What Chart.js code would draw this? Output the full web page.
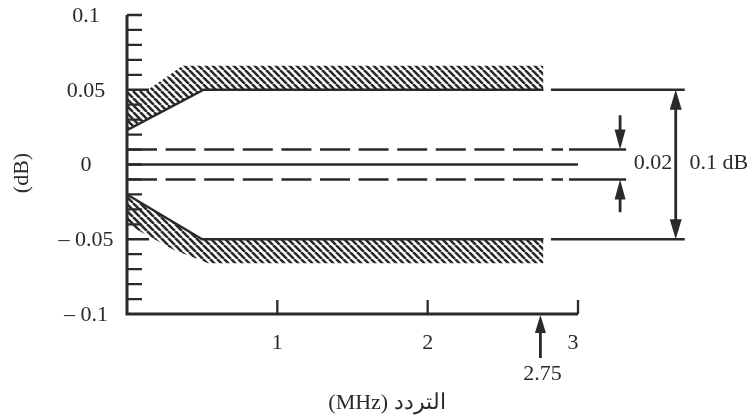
<!DOCTYPE html>
<html>
<head>
<meta charset="utf-8">
<script src="https://cdn.jsdelivr.net/npm/chart.js@4/dist/chart.umd.min.js"></script>
<style>
  html, body { margin: 0; padding: 0; background: #fff; }
  canvas { display: block; }
</style>
</head>
<body>
<canvas id="chart" width="754" height="420"></canvas>
<script>
// frequency in MHz, level in dB
const upperHatchX = [0, 0.14, 0.37, 2.77];
const upperHatchY = [0.05, 0.05, 0.066, 0.066];
const upperLimitX = [0, 0.51, 2.77];
const upperLimitY = [0.023, 0.05, 0.05];
const lowerHatchX = [0, 0.31, 0.54, 2.77];
const lowerHatchY = [-0.04, -0.057, -0.066, -0.066];
const lowerLimitX = [0, 0.5, 2.77];
const lowerLimitY = [-0.02, -0.05, -0.05];
const limitExtX = [2.82, 3.71];
const zeroLineX = [0, 3];
const toleranceX = [0, 2.9];
const toleranceExtX = [2.94, 3.32];
const tolerance = 0.01;
const limit = 0.05;

const xTicks = [1, 2, 3];
const xTickLabels = ["1", "2", "3"];
const yTicks = [0.1, 0.05, 0, -0.05, -0.1];
const yTickLabels = ["0.1", "0.05", "0", "– 0.05", "– 0.1"];
const yMinorStep = 0.01;
const markerX = 2.75;
const markerLabel = "2.75";
const smallArrowX = 3.28;
const smallArrowEnds = [0.033, -0.032];
const smallArrowLabel = "0.02";
const bigArrowX = 3.65;
const bigArrowLabel = "0.1 dB";
const xTitle = "التردد (MHz)";
const yTitle = "(dB)";

const ink = "#2a2a2a";
const serif = "'Liberation Serif', 'Times New Roman', serif";

function hatch() {
  const s = 7;
  const c = document.createElement("canvas");
  c.width = s; c.height = s;
  const g = c.getContext("2d");
  g.strokeStyle = ink;
  g.lineWidth = 2.6;
  g.beginPath();
  for (const k of [-s, 0, s]) { g.moveTo(k, 0); g.lineTo(k + s, s); }
  g.stroke();
  return g.createPattern(c, "repeat");
}

const pts = (xs, ys) => xs.map((x, i) => ({ x, y: Array.isArray(ys) ? ys[i] : ys }));
const solid = (data, w) => ({ data, borderColor: ink, borderWidth: w || 2.3, fill: false, clip: false });
const dashed = data => ({ data, borderColor: ink, borderWidth: 2.6, borderDash: [30, 8.6], fill: false, clip: false });
const pattern = hatch();

function arrowHead(ctx, x, y, dir, len, half) {
  ctx.beginPath();
  ctx.moveTo(x, y);
  ctx.lineTo(x - half, y - dir * len);
  ctx.lineTo(x + half, y - dir * len);
  ctx.closePath();
  ctx.fill();
}

const axesPlugin = {
  id: "axesPlugin",
  afterDatasetsDraw(chart) {
    const { ctx, chartArea: a, scales: { x, y } } = chart;
    ctx.save();
    ctx.strokeStyle = ink;
    ctx.fillStyle = ink;
    ctx.lineCap = "butt";

    // axes
    ctx.lineWidth = 3;
    ctx.beginPath();
    ctx.moveTo(a.left, a.top);
    ctx.lineTo(a.left, a.bottom);
    ctx.lineTo(x.getPixelForValue(3), a.bottom);
    ctx.stroke();

    // y ticks pointing inward
    ctx.lineWidth = 2.3;
    ctx.beginPath();
    for (let v = -0.09; v <= 0.1001; v += yMinorStep) {
      const py = y.getPixelForValue(v);
      const major = Math.abs(Math.abs(v) - 0.05) < 1e-6;
      ctx.moveTo(a.left, py);
      ctx.lineTo(a.left + (major ? 22 : 15), py);
    }
    // x ticks pointing up
    xTicks.forEach(t => {
      const px = x.getPixelForValue(t);
      ctx.moveTo(px, a.bottom);
      ctx.lineTo(px, a.bottom - 14);
    });
    ctx.stroke();

    ctx.font = "22px " + serif;
    ctx.textBaseline = "middle";
    ctx.textAlign = "center";
    yTicks.forEach((t, i) => ctx.fillText(yTickLabels[i], 86, y.getPixelForValue(t) + 1));
    xTicks.forEach((t, i) => {
      const dx = t === 3 ? -5 : 0;
      ctx.fillText(xTickLabels[i], x.getPixelForValue(t) + dx, a.bottom + 29);
    });

    // 2.75 marker
    const mx = x.getPixelForValue(markerX);
    ctx.lineWidth = 2.8;
    ctx.beginPath();
    ctx.moveTo(mx, a.bottom + 44);
    ctx.lineTo(mx, a.bottom + 16);
    ctx.stroke();
    arrowHead(ctx, mx, a.bottom + 1, -1, 18, 5.5);
    ctx.fillText(markerLabel, mx + 2, a.bottom + 60);

    // 0.02 dimension
    const sx = x.getPixelForValue(smallArrowX);
    const t1 = y.getPixelForValue(tolerance), t2 = y.getPixelForValue(-tolerance);
    ctx.beginPath();
    ctx.moveTo(sx, y.getPixelForValue(smallArrowEnds[0]));
    ctx.lineTo(sx, t1 - 15);
    ctx.moveTo(sx, t2 + 15);
    ctx.lineTo(sx, y.getPixelForValue(smallArrowEnds[1]));
    ctx.stroke();
    arrowHead(ctx, sx, t1, 1, 20, 5.5);
    arrowHead(ctx, sx, t2, -1, 20, 5.5);

    // 0.1 dB dimension
    const bx = x.getPixelForValue(bigArrowX);
    const l1 = y.getPixelForValue(limit), l2 = y.getPixelForValue(-limit);
    ctx.beginPath();
    ctx.moveTo(bx, l1 + 15);
    ctx.lineTo(bx, l2 - 15);
    ctx.stroke();
    arrowHead(ctx, bx, l1, -1, 20, 6);
    arrowHead(ctx, bx, l2, 1, 20, 6);

    const my = y.getPixelForValue(0) - 1;
    ctx.fillText(smallArrowLabel, sx + 33, my);
    ctx.fillText(bigArrowLabel, bx + 43, my);

    // titles
    ctx.save();
    ctx.direction = "rtl";
    ctx.fillText(xTitle, 387, 403);
    ctx.restore();
    ctx.save();
    ctx.translate(22, 173);
    ctx.rotate(-Math.PI / 2);
    ctx.fillText(yTitle, 0, 0);
    ctx.restore();

    ctx.restore();
  }
};

new Chart(document.getElementById("chart"), {
  type: "line",
  data: {
    datasets: [
      { data: pts(upperHatchX, upperHatchY), borderWidth: 0, borderColor: "rgba(0,0,0,0)", backgroundColor: pattern, fill: "+1" },
      solid(pts(upperLimitX, upperLimitY)),
      { data: pts(lowerHatchX, lowerHatchY), borderWidth: 0, borderColor: "rgba(0,0,0,0)", backgroundColor: pattern, fill: "+1" },
      solid(pts(lowerLimitX, lowerLimitY)),
      solid(pts(limitExtX, limit)),
      solid(pts(limitExtX, -limit)),
      solid(pts(zeroLineX, 0)),
      dashed(pts(toleranceX, tolerance)),
      dashed(pts(toleranceX, -tolerance)),
      solid(pts(toleranceExtX, tolerance), 2.6),
      solid(pts(toleranceExtX, -tolerance), 2.6)
    ]
  },
  options: {
    responsive: false,
    animation: false,
    layout: { padding: { left: 127, right: 176, top: 15, bottom: 106 } },
    elements: { point: { radius: 0, hoverRadius: 0 }, line: { tension: 0 } },
    scales: {
      x: { type: "linear", min: 0, max: 3, display: false },
      y: { type: "linear", min: -0.1, max: 0.1, display: false }
    },
    plugins: { legend: { display: false }, tooltip: { enabled: false } }
  },
  plugins: [axesPlugin]
});
</script>
</body>
</html>
